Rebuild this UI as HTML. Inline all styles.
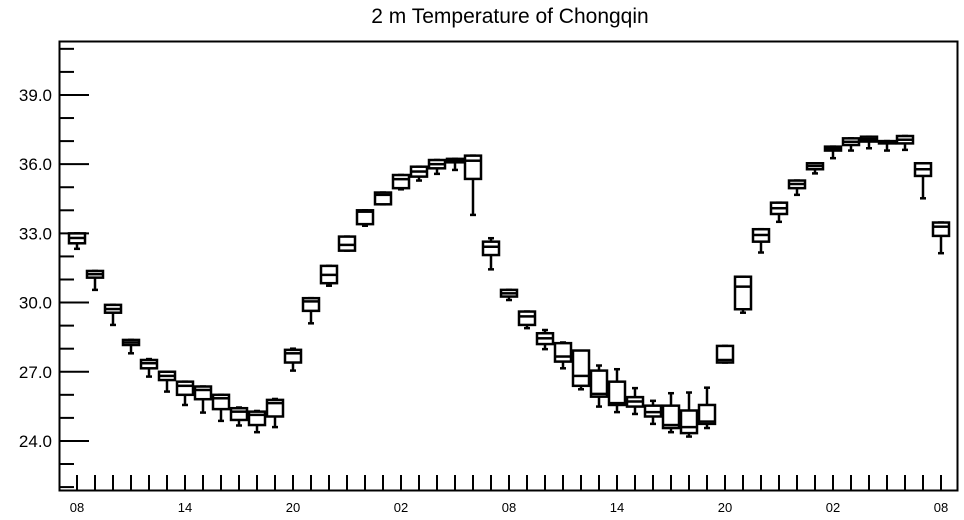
<!DOCTYPE html>
<html><head><meta charset="utf-8"><style>
body{margin:0;background:#fff;}
svg{display:block;font-family:"Liberation Sans",sans-serif;}
</style></head><body>
<svg id="chart" width="964" height="520" xmlns="http://www.w3.org/2000/svg">
<text x="510" y="23" text-anchor="middle" font-size="21">2 m Temperature of Chongqin</text>
<rect x="59.5" y="41.5" width="898" height="449" fill="none" stroke="#000" stroke-width="2"/>
<g id="axes"></g><g id="boxes"></g>
</svg>
<script>
const hourLabels=["08","09","10","11","12","13","14","15","16","17","18","19","20","21","22","23","00","01","02","03","04","05","06","07","08","09","10","11","12","13","14","15","16","17","18","19","20","21","22","23","00","01","02","03","04","05","06","07","08"];
const q3Vals=[33.0,31.37,29.9,28.38,27.51,27.0,26.57,26.36,26.0,25.42,25.27,25.78,27.95,30.19,31.59,32.86,34.0,34.77,35.53,35.89,36.18,36.23,36.37,32.64,30.55,29.61,28.67,28.24,27.92,27.05,26.57,25.9,25.53,25.53,25.32,25.56,28.12,31.12,33.18,34.33,35.29,36.04,36.76,37.12,37.19,37.0,37.22,36.04,33.47];
const q1Vals=[32.57,31.08,29.56,28.16,27.15,26.64,26.0,25.81,25.38,24.91,24.69,25.06,27.4,29.64,30.84,32.25,33.4,34.26,34.96,35.46,35.82,36.08,35.36,32.06,30.26,29.03,28.2,27.44,26.39,25.92,25.56,25.49,25.06,24.56,24.34,24.74,27.4,29.71,32.64,33.84,34.96,35.78,36.59,36.83,36.98,36.9,36.9,35.49,32.89];
const medVals=[32.8,31.23,29.72,28.27,27.37,26.82,26.39,26.21,25.85,25.27,25.13,25.64,27.8,30.05,31.2,32.5,33.94,34.67,35.35,35.68,36.0,36.15,36.15,32.42,30.4,29.4,28.45,27.66,26.82,26.04,25.64,25.71,25.25,24.69,24.6,24.84,27.51,30.69,32.93,34.09,35.14,35.92,36.67,36.97,37.08,36.95,37.06,35.78,33.29];
const lowVals=[32.33,30.55,29.03,27.8,26.79,26.14,25.56,25.23,24.87,24.67,24.38,24.6,27.05,29.1,30.73,32.25,33.33,34.26,34.91,35.29,35.58,35.75,33.8,31.44,30.11,28.89,27.98,27.15,26.24,25.49,25.25,25.17,24.74,24.38,24.19,24.56,27.4,29.56,32.17,33.5,34.67,35.6,36.26,36.59,36.69,36.59,36.62,34.52,32.14];
const highVals=[33.0,31.37,29.9,28.38,27.55,27.0,26.57,26.36,26.0,25.45,25.3,25.82,28.0,30.19,31.59,32.86,34.0,34.77,35.53,35.89,36.18,36.23,36.37,32.79,30.55,29.61,28.81,28.27,27.73,27.27,27.11,26.29,25.74,26.07,26.1,26.31,28.12,31.12,33.18,34.33,35.29,36.04,36.76,37.12,37.19,37.0,37.22,36.04,33.47];
const yMajor=[24,27,30,33,36,39];
const yMin=21.83,yMax=41.34,plotTop=41,plotBottom=491,x0=77,dx=18;
const NS="http://www.w3.org/2000/svg";
function yS(v){return plotBottom-(v-yMin)/(yMax-yMin)*(plotBottom-plotTop);}
function xS(i){return x0+i*dx;}
function mk(t,a,p){const e=document.createElementNS(NS,t);for(const k in a)e.setAttribute(k,a[k]);p.appendChild(e);return e;}
const axG=document.getElementById('axes'),boxG=document.getElementById('boxes');
for(let v=22;v<=41;v++){
  const major=yMajor.includes(v);
  const l=mk('line',{x1:59,x2:major?89:74,y1:yS(v),y2:yS(v),stroke:'#000','stroke-width':2},axG);
  
  
  if(major){const t=mk('text',{x:52,y:yS(v)+6,'text-anchor':'end','font-size':17},axG);t.textContent=v.toFixed(1);
    
    }
}
hourLabels.forEach((h,i)=>{
  const l=mk('line',{x1:xS(i),x2:xS(i),y1:491,y2:475,stroke:'#000','stroke-width':2},axG);
  
  
  if(i%6===0){const t=mk('text',{x:xS(i),y:512,'text-anchor':'middle','font-size':13},axG);t.textContent=h;
    
    }
});
hourLabels.forEach((h,i)=>{
  const g=mk('g',{stroke:'#000','stroke-width':2.5,fill:'#fff'},boxG);
  
  
  const x=xS(i),w=16;
  mk('line',{x1:x,x2:x,y1:yS(q1Vals[i]),y2:yS(lowVals[i])},g);
  mk('line',{x1:x,x2:x,y1:yS(q3Vals[i]),y2:yS(highVals[i])},g);
  mk('line',{x1:x-3,x2:x+3,y1:yS(lowVals[i]),y2:yS(lowVals[i])},g);
  mk('line',{x1:x-3,x2:x+3,y1:yS(highVals[i]),y2:yS(highVals[i])},g);
  mk('rect',{x:x-w/2,y:yS(q3Vals[i]),width:w,height:Math.max(1,yS(q1Vals[i])-yS(q3Vals[i]))},g);
  mk('line',{x1:x-w/2,x2:x+w/2,y1:yS(medVals[i]),y2:yS(medVals[i])},g);
});
</script>
</body></html>
